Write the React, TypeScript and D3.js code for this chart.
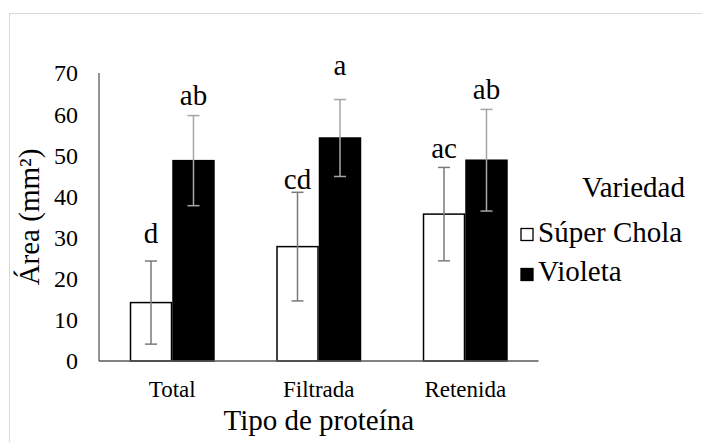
import React from "react";
import * as d3 from "d3";

const categories = ["Total", "Filtrada", "Retenida"];
const seriesNames = ["Súper Chola", "Violeta"];
const superChola = [14.2, 27.8, 35.7];
const superCholaErr = [10.1, 13.2, 11.35];
const violeta = [48.7, 54.2, 48.8];
const violetaErr = [10.95, 9.35, 12.35];
const superCholaLetters = ["d", "cd", "ac"];
const violetaLetters = ["ab", "a", "ab"];
const superCholaLetterAt = [28.7, 41.8, 49.3];
const violetaLetterAt = [62.2, 69.5, 63.7];
const yTicks = [0, 10, 20, 30, 40, 50, 60, 70];

const W = 702;
const H = 442;
const FONT = "'Times New Roman', Tinos, 'Liberation Serif', 'DejaVu Serif', serif";

type TProps = {
  x: number;
  y: number;
  size: number;
  anchor?: "start" | "middle" | "end";
  rotate?: number;
  dy?: string;
  children: React.ReactNode;
};

function T({ x, y, size, anchor = "start", rotate = 0, dy, children }: TProps) {
  return (
    <text
      transform={`translate(${x},${y}) rotate(${rotate})`}
      textAnchor={anchor}
      dy={dy}
      fill="#000"
      style={{ fontFamily: FONT, fontSize: `${size}px` }}
    >
      {children}
    </text>
  );
}

export default function App() {
  const x0 = d3
    .scaleBand<string>()
    .domain(categories)
    .range([99, 538.5])
    .paddingInner(0.42)
    .paddingOuter(0.21);
  const x1 = d3
    .scaleBand<string>()
    .domain(seriesNames)
    .range([0, x0.bandwidth()])
    .padding(0);
  const y = d3.scaleLinear().domain([0, 70]).range([361, 73]);

  const series = [
    { name: seriesNames[0], values: superChola, errs: superCholaErr, letters: superCholaLetters, letterAt: superCholaLetterAt, fill: "#ffffff", stroke: "#000000", errColor: "#7a7a7a" },
    { name: seriesNames[1], values: violeta, errs: violetaErr, letters: violetaLetters, letterAt: violetaLetterAt, fill: "#000000", stroke: "#000000", errColor: "#a6a6a6" },
  ];

  const bw = x1.bandwidth();

  return (
    <div style={{ position: "fixed", left: 0, top: 0, width: W, height: H, background: "#fff", fontFamily: FONT }}>
      <svg width={W} height={H} style={{ display: "block" }}>
        <rect x={0} y={0} width={W} height={H} fill="#ffffff" />
        <rect x={9.5} y={13.5} width={W + 20} height={H + 20} fill="#ffffff" stroke="#d9d9d9" strokeWidth={1} />

        {series.map((s) =>
          categories.map((c, i) => {
            const bx = (x0(c) ?? 0) + (x1(s.name) ?? 0);
            const top = y(s.values[i]);
            return (
              <rect
                key={s.name + c}
                x={bx + 0.75}
                y={top}
                width={bw - 1.5}
                height={y(0) - top}
                fill={s.fill}
                stroke={s.stroke}
                strokeWidth={1.5}
              />
            );
          })
        )}

        <line x1={99} x2={99} y1={y(70)} y2={y(0)} stroke="#595959" strokeWidth={1.3} />
        <line x1={99} x2={538.5} y1={y(0)} y2={y(0)} stroke="#595959" strokeWidth={1.3} />

        {series.map((s) =>
          categories.map((c, i) => {
            const cx = (x0(c) ?? 0) + (x1(s.name) ?? 0) + bw / 2;
            const hi = y(s.values[i] + s.errs[i]);
            const lo = y(s.values[i] - s.errs[i]);
            return (
              <g key={"e" + s.name + c} stroke={s.errColor} strokeWidth={1.5}>
                <line x1={cx} x2={cx} y1={hi} y2={lo} />
                <line x1={cx - 6} x2={cx + 6} y1={hi} y2={hi} />
                <line x1={cx - 6} x2={cx + 6} y1={lo} y2={lo} />
              </g>
            );
          })
        )}

        {series.map((s) =>
          categories.map((c, i) => {
            const cx = (x0(c) ?? 0) + (x1(s.name) ?? 0) + bw / 2;
            return (
              <T key={"l" + s.name + c} x={cx} y={y(s.letterAt[i])} size={29} anchor="middle">
                {s.letters[i]}
              </T>
            );
          })
        )}

        {yTicks.map((t) => (
          <T key={"t" + t} x={78} y={y(t)} dy="0.35em" size={24} anchor="end">
            {t}
          </T>
        ))}

        {categories.map((c) => (
          <T key={"c" + c} x={(x0(c) ?? 0) + x0.bandwidth() / 2} y={397} size={23} anchor="middle">
            {c}
          </T>
        ))}

        <T x={318.75} y={430} size={29} anchor="middle">
          Tipo de proteína
        </T>
        <T x={39} y={y(35)} size={29} anchor="middle" rotate={-90}>
          Área (mm²)
        </T>

        <T x={685} y={197} size={29} anchor="end">
          Variedad
        </T>
        {series.map((s, i) => (
          <g key={"lg" + s.name}>
            <rect x={521} y={228.5 + i * 40} width={12} height={12} fill={s.fill} stroke="#000" strokeWidth={1.3} />
            <T x={538} y={242 + i * 39} size={29}>
              {s.name}
            </T>
          </g>
        ))}
      </svg>
    </div>
  );
}
